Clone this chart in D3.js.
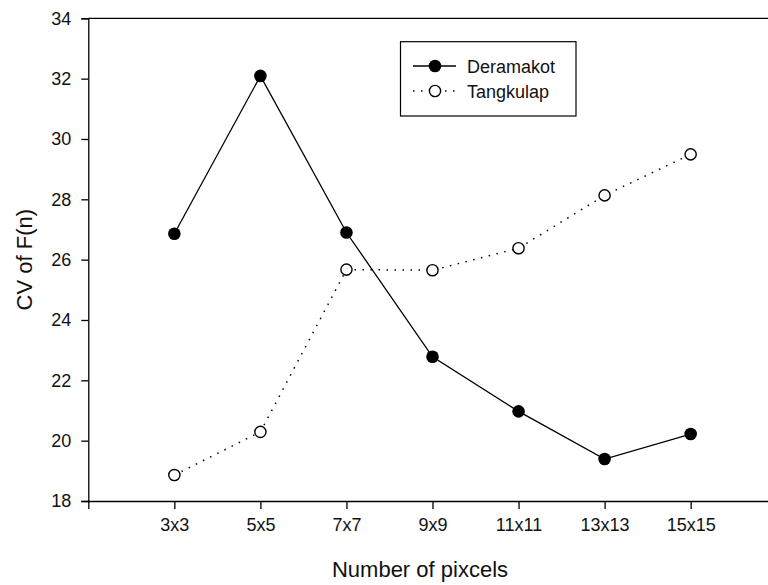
<!DOCTYPE html>
<html><head><meta charset="utf-8">
<script src="https://cdn.jsdelivr.net/npm/d3@7"></script>
<style>
body{margin:0;background:#fff;}
svg{display:block;font-family:"Liberation Sans",Arial,Helvetica,sans-serif;}
</style></head>
<body><svg id="c" width="768" height="585"></svg>
<script>
const categories = ["3x3","5x5","7x7","9x9","11x11","13x13","15x15"];
const deramakot = [26.86, 32.09, 26.9, 22.78, 20.97, 19.39, 20.22];
const tangkulap = [18.86, 20.29, 25.67, 25.65, 26.38, 28.13, 29.49];
const yTicks = [18,20,22,24,26,28,30,32,34];
const seriesNames = ["Deramakot","Tangkulap"];

const svg = d3.select("#c");
const L = 88.3, T = 18.3, B = 501, R = 776.7;
const x = d3.scaleLinear().domain([0, 8]).range([L, R]);
const y = d3.scaleLinear().domain([18, 34]).range([B, T]);

// frame (top and right, right edge beyond view)
svg.append("line").attr("x1",L).attr("x2",R).attr("y1",T).attr("y2",T).attr("stroke","#000").attr("stroke-width",1.3);
svg.append("line").attr("x1",R).attr("x2",R).attr("y1",T).attr("y2",B).attr("stroke","#000").attr("stroke-width",1.3);

// y axis
const ya = svg.append("g").attr("transform",`translate(${L},0)`)
  .call(d3.axisLeft(y).tickValues(yTicks).tickSize(7).tickPadding(10).tickFormat(d3.format("d")));
ya.selectAll("path,line").attr("stroke","#000").attr("stroke-width",1.3);
ya.selectAll("text").attr("font-size",18).attr("fill","#111").attr("font-family","Liberation Sans, Arial, sans-serif");

// x axis
const xa = svg.append("g").attr("transform",`translate(0,${B})`)
  .call(d3.axisBottom(x).tickValues(d3.range(0,9)).tickSize(8).tickPadding(9)
    .tickFormat(i => (i>=1 && i<=categories.length) ? categories[i-1] : ""));
xa.selectAll("path,line").attr("stroke","#000").attr("stroke-width",1.3);
xa.select(".domain").attr("d",`M${L},0.5H${R}`);
xa.selectAll("text").attr("font-size",18).attr("fill","#111").attr("font-family","Liberation Sans, Arial, sans-serif");

// titles
svg.append("text").attr("x",420).attr("y",577).attr("text-anchor","middle")
  .attr("font-size",22).attr("fill","#111").text("Number of pixcels");
svg.append("text").attr("transform",`translate(32,${(T+B)/2}) rotate(-90)`).attr("text-anchor","middle")
  .attr("font-size",22).attr("fill","#111").text("CV of F(n)");

const line = d3.line().x((d,i)=>x(i+1)).y(d=>y(d));

svg.append("path").datum(tangkulap).attr("d",line).attr("fill","none")
  .attr("stroke","#000").attr("stroke-width",1.5).attr("stroke-dasharray","1.5,6.5");
svg.append("path").datum(deramakot).attr("d",line).attr("fill","none")
  .attr("stroke","#000").attr("stroke-width",1.3);

svg.selectAll(".dt").data(tangkulap).enter().append("circle")
  .attr("cx",(d,i)=>x(i+1)).attr("cy",d=>y(d)).attr("r",5.6)
  .attr("fill","#fff").attr("stroke","#000").attr("stroke-width",1.4);
svg.selectAll(".dd").data(deramakot).enter().append("circle")
  .attr("cx",(d,i)=>x(i+1)).attr("cy",d=>y(d)).attr("r",6.3).attr("fill","#000");

// legend
const lg = svg.append("g");
lg.append("rect").attr("x",400.5).attr("y",41.7).attr("width",175.5).attr("height",74.3)
  .attr("fill","#fff").attr("stroke","#000").attr("stroke-width",1.2);
const rows = [{name:seriesNames[0], filled:true, cy:66},{name:seriesNames[1], filled:false, cy:91}];
rows.forEach(r=>{
  lg.append("line").attr("x1",413).attr("x2",456).attr("y1",r.cy).attr("y2",r.cy)
    .attr("stroke","#000").attr("stroke-width",r.filled?1.3:1.5)
    .attr("stroke-dasharray",r.filled?null:"1.5,6.5");
  lg.append("circle").attr("cx",435).attr("cy",r.cy).attr("r",r.filled?6.3:5.6)
    .attr("fill",r.filled?"#000":"#fff").attr("stroke","#000").attr("stroke-width",r.filled?0:1.4);
  lg.append("text").attr("x",467).attr("y",r.cy+6.5).attr("font-size",18).attr("fill","#111").text(r.name);
});
</script></body></html>
